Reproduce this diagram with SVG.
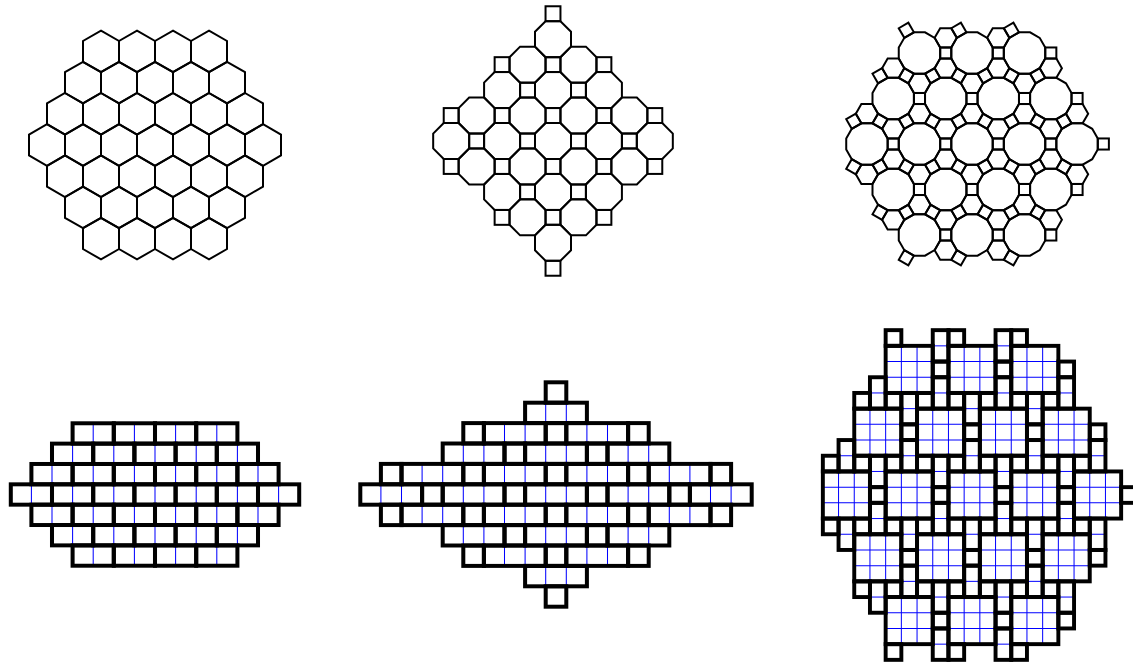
<svg xmlns="http://www.w3.org/2000/svg" xmlns:xlink="http://www.w3.org/1999/xlink" width="1133" height="665" viewBox="0 0 1133 665">
<style>
.k{fill:none;stroke:#000;stroke-linejoin:miter}
.bl{fill:none;stroke:#0000ff}
</style>
<defs>
<path id="hx" d="M0,-20.8L18,-10.4V10.4L0,20.8L-18,10.4V-10.4Z"/>
<path id="oc" d="M-7.455,-18H7.455L18,-7.455V7.455L7.455,18H-7.455L-18,7.455V-7.455Z"/>
<rect id="sq2" x="-7.455" y="-7.455" width="14.91" height="14.91"/>
<path id="dd" d="M20.71,-5.55V5.55L15.16,15.16L5.55,20.71H-5.55L-15.16,15.16L-20.71,5.55V-5.55L-15.16,-15.16L-5.55,-20.71H5.55L15.16,-15.16Z"/>
<path id="h3" d="M11.1,0L5.55,9.61H-5.55L-11.1,0L-5.55,-9.61H5.55Z"/>
<rect id="s3" x="-5.55" y="-5.55" width="11.1" height="11.1"/>
<path id="qa" d="M2.03,-7.58L-7.58,-2.03L-2.03,7.58L7.58,2.03Z"/>
<path id="qb" d="M2.03,7.58L-7.58,2.03L-2.03,-7.58L7.58,-2.03Z"/>
<rect id="u2" x="-1" y="-0.5" width="2" height="1"/>
<path id="u2b" d="M0,-0.5V0.5"/>
<rect id="u3" x="-1.5" y="-0.5" width="3" height="1"/>
<path id="u3b" d="M-0.5,-0.5V0.5M0.5,-0.5V0.5"/>
<rect id="u1" x="-0.5" y="-0.5" width="1" height="1"/>
<rect id="g3" x="-1.5" y="-1.5" width="3" height="3"/>
<path id="g3b" d="M-0.5,-1.5V1.5M0.5,-1.5V1.5M-1.5,-0.5H1.5M-1.5,0.5H1.5"/>
<rect id="d2" x="-0.5" y="-1" width="1" height="2"/>
<path id="d2b" d="M-0.5,0H0.5"/>
<g id="w4"><use href="#u2" x="-3"/><use href="#u2" x="-1"/><use href="#u2" x="1"/><use href="#u2" x="3"/></g>
<g id="w5"><use href="#u2" x="-4"/><use href="#u2" x="-2"/><use href="#u2" x="0"/><use href="#u2" x="2"/><use href="#u2" x="4"/></g>
<g id="w6"><use href="#u2" x="-5"/><use href="#u2" x="-3"/><use href="#u2" x="-1"/><use href="#u2" x="1"/><use href="#u2" x="3"/><use href="#u2" x="5"/></g>
<g id="w7"><use href="#u2" x="-6"/><use href="#u2" x="-4"/><use href="#u2" x="-2"/><use href="#u2" x="0"/><use href="#u2" x="2"/><use href="#u2" x="4"/><use href="#u2" x="6"/></g>
<g id="v4"><use href="#u2b" x="-3"/><use href="#u2b" x="-1"/><use href="#u2b" x="1"/><use href="#u2b" x="3"/></g>
<g id="v5"><use href="#u2b" x="-4"/><use href="#u2b" x="-2"/><use href="#u2b" x="0"/><use href="#u2b" x="2"/><use href="#u2b" x="4"/></g>
<g id="v6"><use href="#u2b" x="-5"/><use href="#u2b" x="-3"/><use href="#u2b" x="-1"/><use href="#u2b" x="1"/><use href="#u2b" x="3"/><use href="#u2b" x="5"/></g>
<g id="v7"><use href="#u2b" x="-6"/><use href="#u2b" x="-4"/><use href="#u2b" x="-2"/><use href="#u2b" x="0"/><use href="#u2b" x="2"/><use href="#u2b" x="4"/><use href="#u2b" x="6"/></g>
</defs>
<rect width="1133" height="665" fill="#fff"/>

<g id="hexagonal-tiling" class="k" stroke-width="2">
<use href="#hx" x="101" y="51.4"/><use href="#hx" x="137" y="51.4"/><use href="#hx" x="173" y="51.4"/><use href="#hx" x="209" y="51.4"/>
<use href="#hx" x="83" y="82.6"/><use href="#hx" x="119" y="82.6"/><use href="#hx" x="155" y="82.6"/><use href="#hx" x="191" y="82.6"/><use href="#hx" x="227" y="82.6"/>
<use href="#hx" x="65" y="113.8"/><use href="#hx" x="101" y="113.8"/><use href="#hx" x="137" y="113.8"/><use href="#hx" x="173" y="113.8"/><use href="#hx" x="209" y="113.8"/><use href="#hx" x="245" y="113.8"/>
<use href="#hx" x="47" y="145"/><use href="#hx" x="83" y="145"/><use href="#hx" x="119" y="145"/><use href="#hx" x="155" y="145"/><use href="#hx" x="191" y="145"/><use href="#hx" x="227" y="145"/><use href="#hx" x="263" y="145"/>
<use href="#hx" x="65" y="176.2"/><use href="#hx" x="101" y="176.2"/><use href="#hx" x="137" y="176.2"/><use href="#hx" x="173" y="176.2"/><use href="#hx" x="209" y="176.2"/><use href="#hx" x="245" y="176.2"/>
<use href="#hx" x="83" y="207.4"/><use href="#hx" x="119" y="207.4"/><use href="#hx" x="155" y="207.4"/><use href="#hx" x="191" y="207.4"/><use href="#hx" x="227" y="207.4"/>
<use href="#hx" x="101" y="238.6"/><use href="#hx" x="137" y="238.6"/><use href="#hx" x="173" y="238.6"/><use href="#hx" x="209" y="238.6"/>
</g>

<g id="truncated-square-tiling" class="k" stroke-width="2">
<use href="#oc" x="553" y="39.18"/>
<use href="#oc" x="527.54" y="64.63"/><use href="#oc" x="578.46" y="64.63"/>
<use href="#oc" x="502.09" y="90.09"/><use href="#oc" x="553" y="90.09"/><use href="#oc" x="603.91" y="90.09"/>
<use href="#oc" x="476.63" y="115.54"/><use href="#oc" x="527.54" y="115.54"/><use href="#oc" x="578.46" y="115.54"/><use href="#oc" x="629.37" y="115.54"/>
<use href="#oc" x="451.18" y="141"/><use href="#oc" x="502.09" y="141"/><use href="#oc" x="553" y="141"/><use href="#oc" x="603.91" y="141"/><use href="#oc" x="654.82" y="141"/>
<use href="#oc" x="476.63" y="166.46"/><use href="#oc" x="527.54" y="166.46"/><use href="#oc" x="578.46" y="166.46"/><use href="#oc" x="629.37" y="166.46"/>
<use href="#oc" x="502.09" y="191.91"/><use href="#oc" x="553" y="191.91"/><use href="#oc" x="603.91" y="191.91"/>
<use href="#oc" x="527.54" y="217.37"/><use href="#oc" x="578.46" y="217.37"/>
<use href="#oc" x="553" y="242.82"/>
<use href="#sq2" x="553" y="13.72"/>
<use href="#sq2" x="502.09" y="64.63"/><use href="#sq2" x="553" y="64.63"/><use href="#sq2" x="603.91" y="64.63"/>
<use href="#sq2" x="527.54" y="90.09"/><use href="#sq2" x="578.46" y="90.09"/>
<use href="#sq2" x="451.18" y="115.54"/><use href="#sq2" x="502.09" y="115.54"/><use href="#sq2" x="553" y="115.54"/><use href="#sq2" x="603.91" y="115.54"/><use href="#sq2" x="654.82" y="115.54"/>
<use href="#sq2" x="476.63" y="141"/><use href="#sq2" x="527.54" y="141"/><use href="#sq2" x="578.46" y="141"/><use href="#sq2" x="629.37" y="141"/>
<use href="#sq2" x="451.18" y="166.46"/><use href="#sq2" x="502.09" y="166.46"/><use href="#sq2" x="553" y="166.46"/><use href="#sq2" x="603.91" y="166.46"/><use href="#sq2" x="654.82" y="166.46"/>
<use href="#sq2" x="527.54" y="191.91"/><use href="#sq2" x="578.46" y="191.91"/>
<use href="#sq2" x="502.09" y="217.37"/><use href="#sq2" x="553" y="217.37"/><use href="#sq2" x="603.91" y="217.37"/>
<use href="#sq2" x="553" y="268.28"/>
</g>

<g id="truncated-trihexagonal-tiling" class="k" stroke-width="2">
<use href="#dd" x="919.47" y="53.02"/><use href="#dd" x="972" y="53.02"/><use href="#dd" x="1024.53" y="53.02"/>
<use href="#dd" x="893.21" y="98.51"/><use href="#dd" x="945.74" y="98.51"/><use href="#dd" x="998.27" y="98.51"/><use href="#dd" x="1050.8" y="98.51"/>
<use href="#dd" x="866.94" y="144"/><use href="#dd" x="919.47" y="144"/><use href="#dd" x="972" y="144"/><use href="#dd" x="1024.53" y="144"/><use href="#dd" x="1077.06" y="144"/>
<use href="#dd" x="893.21" y="189.49"/><use href="#dd" x="945.74" y="189.49"/><use href="#dd" x="998.27" y="189.49"/><use href="#dd" x="1050.8" y="189.49"/>
<use href="#dd" x="919.47" y="234.98"/><use href="#dd" x="972" y="234.98"/><use href="#dd" x="1024.53" y="234.98"/>
<use href="#s3" x="945.74" y="53.02"/><use href="#s3" x="998.27" y="53.02"/><use href="#s3" x="1050.8" y="53.02"/>
<use href="#s3" x="919.47" y="98.51"/><use href="#s3" x="972" y="98.51"/><use href="#s3" x="1024.53" y="98.51"/><use href="#s3" x="1077.06" y="98.51"/>
<use href="#s3" x="893.21" y="144"/><use href="#s3" x="945.74" y="144"/><use href="#s3" x="998.27" y="144"/><use href="#s3" x="1050.8" y="144"/><use href="#s3" x="1103.33" y="144"/>
<use href="#s3" x="919.47" y="189.49"/><use href="#s3" x="972" y="189.49"/><use href="#s3" x="1024.53" y="189.49"/><use href="#s3" x="1077.06" y="189.49"/>
<use href="#s3" x="945.74" y="234.98"/><use href="#s3" x="998.27" y="234.98"/><use href="#s3" x="1050.8" y="234.98"/>
<use href="#qa" x="906.34" y="30.28"/><use href="#qa" x="958.87" y="30.28"/><use href="#qa" x="1011.4" y="30.28"/>
<use href="#qa" x="880.08" y="75.77"/><use href="#qa" x="932.61" y="75.77"/><use href="#qa" x="985.14" y="75.77"/><use href="#qa" x="1037.67" y="75.77"/>
<use href="#qa" x="853.81" y="121.26"/><use href="#qa" x="906.34" y="121.26"/><use href="#qa" x="958.87" y="121.26"/><use href="#qa" x="1011.4" y="121.26"/><use href="#qa" x="1063.93" y="121.26"/>
<use href="#qa" x="880.08" y="166.75"/><use href="#qa" x="932.61" y="166.75"/><use href="#qa" x="985.14" y="166.75"/><use href="#qa" x="1037.67" y="166.75"/>
<use href="#qa" x="906.34" y="212.24"/><use href="#qa" x="958.87" y="212.24"/><use href="#qa" x="1011.4" y="212.24"/>
<use href="#qb" x="906.34" y="75.77"/><use href="#qb" x="958.87" y="75.77"/><use href="#qb" x="1011.4" y="75.77"/>
<use href="#qb" x="880.08" y="121.26"/><use href="#qb" x="932.61" y="121.26"/><use href="#qb" x="985.14" y="121.26"/><use href="#qb" x="1037.67" y="121.26"/>
<use href="#qb" x="853.81" y="166.75"/><use href="#qb" x="906.34" y="166.75"/><use href="#qb" x="958.87" y="166.75"/><use href="#qb" x="1011.4" y="166.75"/><use href="#qb" x="1063.93" y="166.75"/>
<use href="#qb" x="880.08" y="212.24"/><use href="#qb" x="932.61" y="212.24"/><use href="#qb" x="985.14" y="212.24"/><use href="#qb" x="1037.67" y="212.24"/>
<use href="#qb" x="906.34" y="257.73"/><use href="#qb" x="958.87" y="257.73"/><use href="#qb" x="1011.4" y="257.73"/>
<use href="#h3" x="945.74" y="37.86"/><use href="#h3" x="998.27" y="37.86"/>
<use href="#h3" x="893.21" y="68.18"/><use href="#h3" x="945.74" y="68.18"/><use href="#h3" x="998.27" y="68.18"/><use href="#h3" x="1050.8" y="68.18"/>
<use href="#h3" x="919.47" y="83.35"/><use href="#h3" x="972" y="83.35"/><use href="#h3" x="1024.53" y="83.35"/>
<use href="#h3" x="866.94" y="113.67"/><use href="#h3" x="919.47" y="113.67"/><use href="#h3" x="972" y="113.67"/><use href="#h3" x="1024.53" y="113.67"/><use href="#h3" x="1077.06" y="113.67"/>
<use href="#h3" x="893.21" y="128.84"/><use href="#h3" x="945.74" y="128.84"/><use href="#h3" x="998.27" y="128.84"/><use href="#h3" x="1050.8" y="128.84"/>
<use href="#h3" x="893.21" y="159.16"/><use href="#h3" x="945.74" y="159.16"/><use href="#h3" x="998.27" y="159.16"/><use href="#h3" x="1050.8" y="159.16"/>
<use href="#h3" x="866.94" y="174.33"/><use href="#h3" x="919.47" y="174.33"/><use href="#h3" x="972" y="174.33"/><use href="#h3" x="1024.53" y="174.33"/><use href="#h3" x="1077.06" y="174.33"/>
<use href="#h3" x="919.47" y="204.65"/><use href="#h3" x="972" y="204.65"/><use href="#h3" x="1024.53" y="204.65"/>
<use href="#h3" x="893.21" y="219.82"/><use href="#h3" x="945.74" y="219.82"/><use href="#h3" x="998.27" y="219.82"/><use href="#h3" x="1050.8" y="219.82"/>
<use href="#h3" x="945.74" y="250.14"/><use href="#h3" x="998.27" y="250.14"/>
</g>

<g id="brick-grid" transform="translate(155,494.5) scale(20.6,20.35)">
<g class="bl" stroke-width="0.05">
<use href="#v4" y="-3"/><use href="#v5" y="-2"/><use href="#v6" y="-1"/><use href="#v7" y="0"/><use href="#v6" y="1"/><use href="#v5" y="2"/><use href="#v4" y="3"/>
</g>
<g class="k" stroke-width="0.195">
<use href="#w4" y="-3"/><use href="#w5" y="-2"/><use href="#w6" y="-1"/><use href="#w7" y="0"/><use href="#w6" y="1"/><use href="#w5" y="2"/><use href="#w4" y="3"/>
</g>
</g>

<g id="octagon-square-grid" transform="translate(556,494.5) scale(20.6,20.4)">
<g class="bl" stroke-width="0.05">
<use href="#u3b" x="0" y="-4"/>
<use href="#u3b" x="-2" y="-3"/><use href="#u3b" x="2" y="-3"/>
<use href="#u3b" x="-4" y="-2"/><use href="#u3b" x="0" y="-2"/><use href="#u3b" x="4" y="-2"/>
<use href="#u3b" x="-6" y="-1"/><use href="#u3b" x="-2" y="-1"/><use href="#u3b" x="2" y="-1"/><use href="#u3b" x="6" y="-1"/>
<use href="#u3b" x="-8" y="0"/><use href="#u3b" x="-4" y="0"/><use href="#u3b" x="0" y="0"/><use href="#u3b" x="4" y="0"/><use href="#u3b" x="8" y="0"/>
<use href="#u3b" x="-6" y="1"/><use href="#u3b" x="-2" y="1"/><use href="#u3b" x="2" y="1"/><use href="#u3b" x="6" y="1"/>
<use href="#u3b" x="-4" y="2"/><use href="#u3b" x="0" y="2"/><use href="#u3b" x="4" y="2"/>
<use href="#u3b" x="-2" y="3"/><use href="#u3b" x="2" y="3"/>
<use href="#u3b" x="0" y="4"/>
</g>
<g class="k" stroke-width="0.195">
<use href="#u3" x="0" y="-4"/>
<use href="#u3" x="-2" y="-3"/><use href="#u3" x="2" y="-3"/>
<use href="#u3" x="-4" y="-2"/><use href="#u3" x="0" y="-2"/><use href="#u3" x="4" y="-2"/>
<use href="#u3" x="-6" y="-1"/><use href="#u3" x="-2" y="-1"/><use href="#u3" x="2" y="-1"/><use href="#u3" x="6" y="-1"/>
<use href="#u3" x="-8" y="0"/><use href="#u3" x="-4" y="0"/><use href="#u3" x="0" y="0"/><use href="#u3" x="4" y="0"/><use href="#u3" x="8" y="0"/>
<use href="#u3" x="-6" y="1"/><use href="#u3" x="-2" y="1"/><use href="#u3" x="2" y="1"/><use href="#u3" x="6" y="1"/>
<use href="#u3" x="-4" y="2"/><use href="#u3" x="0" y="2"/><use href="#u3" x="4" y="2"/>
<use href="#u3" x="-2" y="3"/><use href="#u3" x="2" y="3"/>
<use href="#u3" x="0" y="4"/>
<use href="#u1" x="0" y="-5"/>
<use href="#u1" x="-4" y="-3"/><use href="#u1" x="0" y="-3"/><use href="#u1" x="4" y="-3"/>
<use href="#u1" x="-2" y="-2"/><use href="#u1" x="2" y="-2"/>
<use href="#u1" x="-8" y="-1"/><use href="#u1" x="-4" y="-1"/><use href="#u1" x="0" y="-1"/><use href="#u1" x="4" y="-1"/><use href="#u1" x="8" y="-1"/>
<use href="#u1" x="-6" y="0"/><use href="#u1" x="-2" y="0"/><use href="#u1" x="2" y="0"/><use href="#u1" x="6" y="0"/>
<use href="#u1" x="-8" y="1"/><use href="#u1" x="-4" y="1"/><use href="#u1" x="0" y="1"/><use href="#u1" x="4" y="1"/><use href="#u1" x="8" y="1"/>
<use href="#u1" x="-2" y="2"/><use href="#u1" x="2" y="2"/>
<use href="#u1" x="-4" y="3"/><use href="#u1" x="0" y="3"/><use href="#u1" x="4" y="3"/>
<use href="#u1" x="0" y="5"/>
</g>
</g>

<g id="dodecagon-square-grid" transform="translate(972,495) scale(15.7)">
<g class="bl" stroke-width="0.064">
<use href="#g3b" x="-4" y="-8"/><use href="#g3b" x="0" y="-8"/><use href="#g3b" x="4" y="-8"/>
<use href="#g3b" x="-6" y="-4"/><use href="#g3b" x="-2" y="-4"/><use href="#g3b" x="2" y="-4"/><use href="#g3b" x="6" y="-4"/>
<use href="#g3b" x="-8" y="0"/><use href="#g3b" x="-4" y="0"/><use href="#g3b" x="0" y="0"/><use href="#g3b" x="4" y="0"/><use href="#g3b" x="8" y="0"/>
<use href="#g3b" x="-6" y="4"/><use href="#g3b" x="-2" y="4"/><use href="#g3b" x="2" y="4"/><use href="#g3b" x="6" y="4"/>
<use href="#g3b" x="-4" y="8"/><use href="#g3b" x="0" y="8"/><use href="#g3b" x="4" y="8"/>
<use href="#d2b" x="-2" y="-9.5"/><use href="#d2b" x="2" y="-9.5"/>
<use href="#d2b" x="-6" y="-6.5"/><use href="#d2b" x="-2" y="-6.5"/><use href="#d2b" x="2" y="-6.5"/><use href="#d2b" x="6" y="-6.5"/>
<use href="#d2b" x="-4" y="-5.5"/><use href="#d2b" x="0" y="-5.5"/><use href="#d2b" x="4" y="-5.5"/>
<use href="#d2b" x="-8" y="-2.5"/><use href="#d2b" x="-4" y="-2.5"/><use href="#d2b" x="0" y="-2.5"/><use href="#d2b" x="4" y="-2.5"/><use href="#d2b" x="8" y="-2.5"/>
<use href="#d2b" x="-6" y="-1.5"/><use href="#d2b" x="-2" y="-1.5"/><use href="#d2b" x="2" y="-1.5"/><use href="#d2b" x="6" y="-1.5"/>
<use href="#d2b" x="-6" y="1.5"/><use href="#d2b" x="-2" y="1.5"/><use href="#d2b" x="2" y="1.5"/><use href="#d2b" x="6" y="1.5"/>
<use href="#d2b" x="-8" y="2.5"/><use href="#d2b" x="-4" y="2.5"/><use href="#d2b" x="0" y="2.5"/><use href="#d2b" x="4" y="2.5"/><use href="#d2b" x="8" y="2.5"/>
<use href="#d2b" x="-4" y="5.5"/><use href="#d2b" x="0" y="5.5"/><use href="#d2b" x="4" y="5.5"/>
<use href="#d2b" x="-6" y="6.5"/><use href="#d2b" x="-2" y="6.5"/><use href="#d2b" x="2" y="6.5"/><use href="#d2b" x="6" y="6.5"/>
<use href="#d2b" x="-2" y="9.5"/><use href="#d2b" x="2" y="9.5"/>
</g>
<g class="k" stroke-width="0.25">
<use href="#g3" x="-4" y="-8"/><use href="#g3" x="0" y="-8"/><use href="#g3" x="4" y="-8"/>
<use href="#g3" x="-6" y="-4"/><use href="#g3" x="-2" y="-4"/><use href="#g3" x="2" y="-4"/><use href="#g3" x="6" y="-4"/>
<use href="#g3" x="-8" y="0"/><use href="#g3" x="-4" y="0"/><use href="#g3" x="0" y="0"/><use href="#g3" x="4" y="0"/><use href="#g3" x="8" y="0"/>
<use href="#g3" x="-6" y="4"/><use href="#g3" x="-2" y="4"/><use href="#g3" x="2" y="4"/><use href="#g3" x="6" y="4"/>
<use href="#g3" x="-4" y="8"/><use href="#g3" x="0" y="8"/><use href="#g3" x="4" y="8"/>
<use href="#d2" x="-2" y="-9.5"/><use href="#d2" x="2" y="-9.5"/>
<use href="#d2" x="-6" y="-6.5"/><use href="#d2" x="-2" y="-6.5"/><use href="#d2" x="2" y="-6.5"/><use href="#d2" x="6" y="-6.5"/>
<use href="#d2" x="-4" y="-5.5"/><use href="#d2" x="0" y="-5.5"/><use href="#d2" x="4" y="-5.5"/>
<use href="#d2" x="-8" y="-2.5"/><use href="#d2" x="-4" y="-2.5"/><use href="#d2" x="0" y="-2.5"/><use href="#d2" x="4" y="-2.5"/><use href="#d2" x="8" y="-2.5"/>
<use href="#d2" x="-6" y="-1.5"/><use href="#d2" x="-2" y="-1.5"/><use href="#d2" x="2" y="-1.5"/><use href="#d2" x="6" y="-1.5"/>
<use href="#d2" x="-6" y="1.5"/><use href="#d2" x="-2" y="1.5"/><use href="#d2" x="2" y="1.5"/><use href="#d2" x="6" y="1.5"/>
<use href="#d2" x="-8" y="2.5"/><use href="#d2" x="-4" y="2.5"/><use href="#d2" x="0" y="2.5"/><use href="#d2" x="4" y="2.5"/><use href="#d2" x="8" y="2.5"/>
<use href="#d2" x="-4" y="5.5"/><use href="#d2" x="0" y="5.5"/><use href="#d2" x="4" y="5.5"/>
<use href="#d2" x="-6" y="6.5"/><use href="#d2" x="-2" y="6.5"/><use href="#d2" x="2" y="6.5"/><use href="#d2" x="6" y="6.5"/>
<use href="#d2" x="-2" y="9.5"/><use href="#d2" x="2" y="9.5"/>
<use href="#u1" x="-2" y="-8"/><use href="#u1" x="2" y="-8"/><use href="#u1" x="6" y="-8"/>
<use href="#u1" x="-4" y="-4"/><use href="#u1" x="0" y="-4"/><use href="#u1" x="4" y="-4"/><use href="#u1" x="8" y="-4"/>
<use href="#u1" x="-6" y="0"/><use href="#u1" x="-2" y="0"/><use href="#u1" x="2" y="0"/><use href="#u1" x="6" y="0"/><use href="#u1" x="10" y="0"/>
<use href="#u1" x="-4" y="4"/><use href="#u1" x="0" y="4"/><use href="#u1" x="4" y="4"/><use href="#u1" x="8" y="4"/>
<use href="#u1" x="-2" y="8"/><use href="#u1" x="2" y="8"/><use href="#u1" x="6" y="8"/>
<use href="#u1" x="-5" y="-10"/><use href="#u1" x="-1" y="-10"/><use href="#u1" x="3" y="-10"/>
<use href="#u1" x="-7" y="-6"/><use href="#u1" x="-3" y="-6"/><use href="#u1" x="1" y="-6"/><use href="#u1" x="5" y="-6"/>
<use href="#u1" x="-9" y="-2"/><use href="#u1" x="-5" y="-2"/><use href="#u1" x="-1" y="-2"/><use href="#u1" x="3" y="-2"/><use href="#u1" x="7" y="-2"/>
<use href="#u1" x="-7" y="2"/><use href="#u1" x="-3" y="2"/><use href="#u1" x="1" y="2"/><use href="#u1" x="5" y="2"/>
<use href="#u1" x="-5" y="6"/><use href="#u1" x="-1" y="6"/><use href="#u1" x="3" y="6"/>
<use href="#u1" x="-5" y="-6"/><use href="#u1" x="-1" y="-6"/><use href="#u1" x="3" y="-6"/>
<use href="#u1" x="-7" y="-2"/><use href="#u1" x="-3" y="-2"/><use href="#u1" x="1" y="-2"/><use href="#u1" x="5" y="-2"/>
<use href="#u1" x="-9" y="2"/><use href="#u1" x="-5" y="2"/><use href="#u1" x="-1" y="2"/><use href="#u1" x="3" y="2"/><use href="#u1" x="7" y="2"/>
<use href="#u1" x="-7" y="6"/><use href="#u1" x="-3" y="6"/><use href="#u1" x="1" y="6"/><use href="#u1" x="5" y="6"/>
<use href="#u1" x="-5" y="10"/><use href="#u1" x="-1" y="10"/><use href="#u1" x="3" y="10"/>
</g>
</g>
</svg>
